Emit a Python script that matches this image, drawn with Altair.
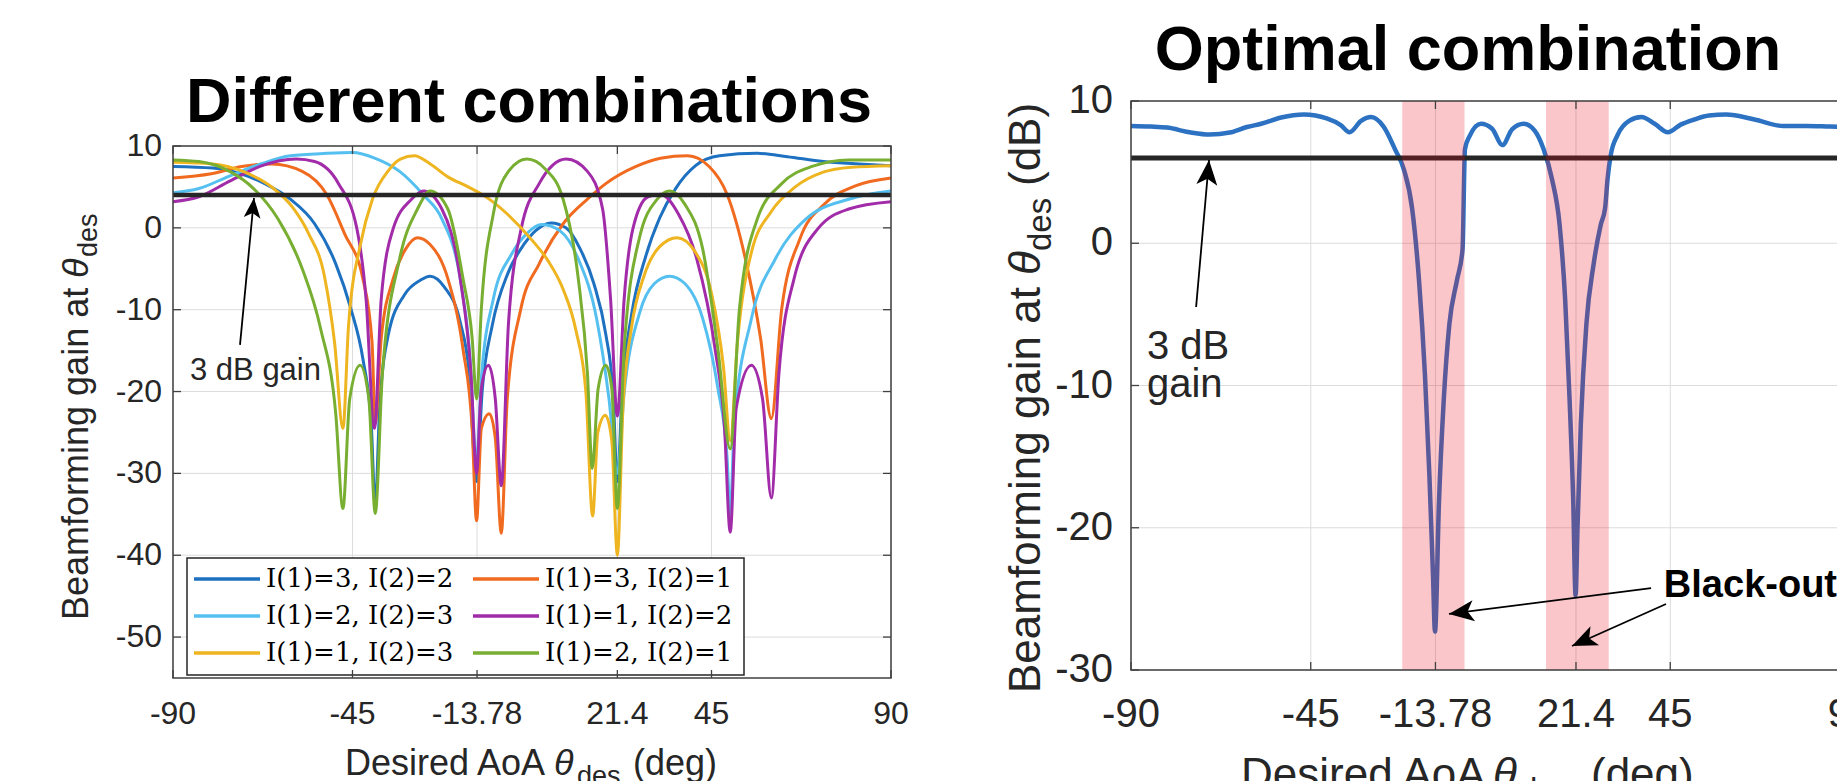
import altair as alt
import pandas as pd

# ---------------- left panel: different combinations ----------------
NAMES = ["I(1)=3, I(2)=2", "I(1)=3, I(2)=1", "I(1)=2, I(2)=3",
         "I(1)=1, I(2)=2", "I(1)=1, I(2)=3", "I(1)=2, I(2)=1"]
COLORS = ["#1D71C0", "#F06A1F", "#55C0F0", "#A12BA8", "#EEB520", "#78AE31"]

X_32 = [-90, -80, -73, -67, -60.6, -54.5, -49.2, -45.4, -42.4, -40.3, -39.3, -38.2, -36, -32, -28,
        -25.6, -22, -18, -15.8, -13.9, -12.5, -10, -6, -2, 1, 4.8, 8.5, 12, 15.5, 18.5, 20.3, 21.4,
        22.6, 25, 28.5, 32, 36, 41, 47, 56.5, 64, 73, 82, 90]
Y_32 = [7.5, 7.3, 6.6, 5.4, 3.5, 0.5, -4.4, -9.9, -16, -24, -34, -22, -13, -8.2, -6.4,
        -5.9, -7.2, -11.5, -17.5, -31, -20, -12, -5.5, -2, -0.3, 0.6, 0, -2.5, -6.8, -13, -20, -31,
        -20, -10.5, -3.5, 1.2, 4.8, 7.6, 8.8, 9.1, 8.7, 8.1, 7.8, 7.6]

X_31 = [-90, -80.4, -72.8, -65.2, -57.6, -51.5, -47, -42.4, -40.1, -39.3, -37.8, -34.8, -31.7, -28.7,
        -25.6, -21.1, -17.3, -15, -13.9, -12.7, -10.7, -9.2, -7.7, -6.2, -2.8, 1.8, 7.8, 13.9, 18.5,
        26.1, 32.2, 39, 44.4, 48.9, 53.5, 57.3, 60, 62.6, 67.2, 73.3, 80.9, 90]
Y_31 = [6.1, 6.6, 7.5, 7.8, 6.9, 4.1, -0.7, -6.2, -14, -23.9, -13.5, -6.2, -2.6, -1.2,
        -2, -6.2, -14.8, -24.5, -35.8, -24.5, -22.7, -25.7, -37.3, -20.9, -9.9, -4.4, 0.5, 3.5, 5.4,
        7.5, 8.5, 8.8, 7.5, 4.1, -3.8, -13.5, -23.3, -9.9, -1.3, 2.9, 5.1, 6.1]

X_23 = [-90, -83.5, -76, -68, -60.6, -51.5, -45, -39.3, -33.2, -27.2, -22.6, -18, -15.7, -13.9,
        -12.7, -9.7, -5.1, -1.3, 2.5, 7.1, 11.6, 16.2, 19.3, 21.4, 23.1, 26.9, 30.7, 34.5, 38.3,
        42.8, 46.6, 48.9, 49.7, 50.7, 55, 61, 68.7, 79.4, 90]
Y_23 = [4.3, 4.8, 6.3, 7.8, 8.8, 9.1, 9.2, 8.5, 6.9, 4.0, 1.1, -6.2, -14.8, -28.2,
        -18.4, -8.7, -3.2, -0.7, 0.4, -0.4, -3.8, -11.1, -20.9, -30, -20.2, -10.5, -6.8, -5.9, -6.8,
        -11.1, -19.6, -28, -34.9, -24, -11.1, -3.8, 1.1, 3.5, 4.5]

X_12 = [-90, -83.5, -75.8, -68.2, -59.1, -54.5, -48.5, -43.9, -41.6, -39.5, -37.8, -34.8, -30.2,
        -27.2, -22.6, -18, -15.3, -13.9, -12.7, -10.9, -9.2, -7.7, -5.9, -2.7, 1.8, 8.6, 13.9, 17.7,
        19.7, 21.4, 23.1, 25.3, 29.1, 32.2, 36.7, 41.3, 45.9, 48.2, 49.7, 51.2, 55, 57.8, 60, 61.9,
        65.7, 71.7, 79.4, 90]
Y_12 = [3.2, 3.8, 5.7, 7.5, 8.4, 8.1, 5.4, -0.1, -8.7, -24.5, -8.7, -0.1, 3.5,
        4.5, 2.3, -6.2, -17.8, -30, -19.6, -16.8, -20.9, -31.5, -11.7, -0.1, 5.4, 8.4, 6.9, 2.3,
        -8.7, -23, -8.7, -0.1, 3.8, 4.1, 1.7, -3.8, -14.8, -23.9, -37.2, -22, -16.8, -20.9, -33, -17.8,
        -6.2, -0.1, 2.3, 3.2]

X_13 = [-90, -80, -72, -65, -60, -56, -52, -49.5, -47.4, -46, -43, -40, -36, -33, -29.5, -25.5,
        -21, -16, -11, -6, 0, 4, 7.8, 11, 13.5, 15.2, 16.5, 18.4, 20, 21.4, 22.8, 25, 28, 32, 36.4,
        41, 45, 48, 49.7, 51.5, 55, 60, 66, 73, 80, 90]
Y_13 = [8.0, 7.8, 6.8, 4.9, 2.5, -0.7, -6, -14, -24.5, -12, -2, 3.5, 7, 8.4, 8.8, 7.8,
        6.2, 5.0, 3.6, 1.6, -1.5, -4, -7.5, -12.5, -20, -35.2, -25, -22.9, -26, -40, -22, -12, -6, -2.3, -1.2,
        -3, -8, -17, -26, -14, -3, 2, 5, 6.8, 7.4, 7.6]

X_21 = [-90, -83.5, -75.8, -69.8, -63.7, -57.6, -53, -49.2, -47.4, -45.7, -43.1, -40.9, -39.3,
        -37.5, -33.2, -28.7, -25.5, -21.1, -17.3, -15, -13.9, -12.7, -9.7, -5.9, -1.3, 3.3, 7.8, 11.6,
        13.9, 15.1, 16.6, 18.5, 20, 21.4, 23.1, 26.9, 31.4, 34.5, 38.3, 42.8, 46.6, 49.7, 52, 56.5,
        62.6, 70.2, 79.4, 90]
Y_21 = [8.3, 8.1, 6.9, 4.8, 1.1, -5, -12.3, -22.7, -34.3, -20.9, -16.8, -20.9, -34.9,
        -17.8, -3.8, 2.3, 4.5, 2.3, -6.2, -13.5, -20.9, -9.9, 1.7, 6.9, 8.4, 7.2, 3.5, -6.2,
        -17.8, -29.4, -19.6, -16.8, -19.6, -34.3, -14.8, -1.3, 3.5, 4.5, 2.9, -2.6, -14.8, -27, -9.9, 1.1,
        5.4, 7.5, 8.3, 8.3]

# ---------------- right panel: optimal combination ----------------
X_OPT = [-90, -85, -81, -75.3, -70.3, -65.3, -61, -57.4, -52.4, -46.7, -41, -37.5, -35.3, -32.4,
         -29.9, -26.7, -23.9, -21.7, -19.6, -17.9, -16.4, -15.3, -14.4, -13.9, -12.9, -11.7, -10.3,
         -8.4, -7.0, -6.4, -5.3, -2.4, 0.4, 3.0, 5.4, 8.3, 11.1, 13.3, 15.4, 17.3, 18.7, 19.8, 20.7,
         21.3, 21.8, 22.6, 24.0, 25.8, 27.6, 28.7, 29.3, 30.1, 31.8, 34.7, 37.8, 41.1, 44.4, 47.6,
         51, 54.7, 59, 66.1, 73.3, 79, 85, 90]
Y_OPT = [8.24, 8.2, 8.13, 7.8, 7.64, 7.78, 8.17, 8.4, 8.84, 9.05, 8.77, 8.3, 7.8, 8.6,
         8.87, 8.17, 6.6, 5.2, 2.4, -2.6, -9.3, -16.3, -23.3, -27.3, -18.2, -11, -5.7,
         -2.6, -0.45, 6.6, 7.5, 8.4, 8.05, 6.9, 8.0, 8.4, 7.9, 6.6, 4.5, 1.3, -4, -11, -18,
         -24.75, -19.8, -12.8, -5.7, -1.5, 1.3, 2.5, 4.5, 6.2, 7.6, 8.6, 8.87, 8.4, 7.8, 8.34,
         8.7, 8.98, 9.05, 8.7, 8.24, 8.24, 8.2, 8.17]

BAND_START = [-22.1, 13.9]
BAND_END = [-6.5, 29.6]

XTICKS = [-90, -45, -13.78, 21.4, 45, 90]
YTICKS_L = [10, 0, -10, -20, -30, -40, -50]
YTICKS_R = [10, 0, -10, -20, -30]
THRESH_L = [4]
THRESH_R = [6]

TITLE_L = "Different combinations"
TITLE_R = "Optimal combination"
YT_MAIN = "Beamforming gain at "
THETA = "\u03b8"
SUB = "des"
XT_MAIN = "Desired AoA "
XT_UNIT = "(deg)"
YT_UNIT = "(dB)"
ANNOT_L = "3 dB gain"
ANNOT_R = ["3 dB", "gain"]
BLACKOUT = "Black-out"

# annotation anchors (data coordinates)
ARROW_L = (-73.2, -14.3, -69.7, 3.65)
ARROW_R = (-73.7, -4.48, -70.47, 5.85)
ARROW_B1 = (40.2, -24.24, -10.39, -26.06)
ARROW_B2 = (43.94, -25.36, 20.4, -28.31)

# ---------------- geometry / styling ----------------
SANS = "Liberation Sans"
SERIF = "DejaVu Serif"
INK = "#262626"
FRAME = "#404040"
GRID = "#dcdcdc"
HEAD = "M0,0 L0.42,1 L0,0.75 L-0.42,1 Z"

WL, HL = 718, 532          # left plot box
WR, HR = 719, 569          # right plot box
L0X, L0Y = 0, 45           # left box origin inside the shared view
R0X, R0Y = 958, 0          # right box origin inside the shared view
PAD_L, PAD_T = 165, 93     # view origin on the page is (8 + PAD_L, 8 + PAD_T)
VIEW_W = 1829 - PAD_L      # the drawing is cut at the right edge of the window
VIEW_H = L0Y + HL
PAD_B = 773 - PAD_T - VIEW_H

xsL = alt.Scale(domain=[-90, 90], range=[L0X, L0X + WL], nice=False, zero=False)
ysL = alt.Scale(domain=[-55, 10], range=[L0Y + HL, L0Y], nice=False, zero=False)
xsR = alt.Scale(domain=[-90, 90], range=[R0X, R0X + WR], nice=False, zero=False)
ysR = alt.Scale(domain=[-30, 10], range=[R0Y + HR, R0Y], nice=False, zero=False)
cscale = alt.Scale(domain=NAMES, range=COLORS)


def XL(f):
    return alt.X(f, type="quantitative", scale=xsL, axis=None)


def YL(f):
    return alt.Y(f, type="quantitative", scale=ysL, axis=None)


def XR(f):
    return alt.X(f, type="quantitative", scale=xsR, axis=None)


def YR(f):
    return alt.Y(f, type="quantitative", scale=ysR, axis=None)


def one(**kw):
    return pd.DataFrame([kw])


def vtext(txt, x, y, size, **kw):
    return alt.Chart(pd.DataFrame({"t": [txt]})).mark_text(
        font=SANS, fontSize=size, baseline="alphabetic", **kw
    ).encode(x=alt.value(x), y=alt.value(y), text="t:N")


def dtext(txt, x, y, X, Y, size, **kw):
    return alt.Chart(pd.DataFrame({"t": [txt], "deg": [x], "gain": [y]})).mark_text(
        font=SANS, fontSize=size, baseline="alphabetic", align="left", **kw
    ).encode(x=X("deg"), y=Y("gain"), text="t:N")


def arrow(spec, ang, hsize, X, Y):
    x0, y0, x1, y1 = spec
    shaft = alt.Chart(pd.DataFrame({"deg": [x0, x1], "gain": [y0, y1]})).mark_line(
        color="black", strokeWidth=1.8).encode(x=X("deg"), y=Y("gain"))
    head = alt.Chart(pd.DataFrame({"deg": [x1], "gain": [y1]})).mark_point(
        shape=HEAD, filled=True, size=hsize, angle=ang, color="black", opacity=1,
        strokeWidth=0).encode(x=X("deg"), y=Y("gain"))
    return [shaft, head]


def grid(X, Y, x0, y0, W, H, xt, yt):
    dx = pd.DataFrame({"deg": xt})
    dy = pd.DataFrame({"gain": yt})
    m = dict(color=GRID, strokeWidth=1)
    return [
        alt.Chart(dx).mark_rule(**m).encode(x=X("deg"), y=alt.value(y0), y2=alt.value(y0 + H)),
        alt.Chart(dy).mark_rule(**m).encode(y=Y("gain"), x=alt.value(x0), x2=alt.value(x0 + W)),
    ]


def box(X, Y, x0, y0, W, H, xt, yt, fs, xpad, ypad):
    dx = pd.DataFrame({"deg": xt, "lab": [f"{v:g}" for v in xt]})
    dy = pd.DataFrame({"gain": yt, "lab": [f"{v:g}" for v in yt]})
    m = dict(color=FRAME, strokeWidth=1.3)
    t = dict(font=SANS, fontSize=fs, color=INK)
    return [
        alt.Chart(dx).mark_rule(**m).encode(x=X("deg"), y=alt.value(y0 + H), y2=alt.value(y0 + H - 8)),
        alt.Chart(dx).mark_rule(**m).encode(x=X("deg"), y=alt.value(y0), y2=alt.value(y0 + 8)),
        alt.Chart(dy).mark_rule(**m).encode(y=Y("gain"), x=alt.value(x0), x2=alt.value(x0 + 8)),
        alt.Chart(dy).mark_rule(**m).encode(y=Y("gain"), x=alt.value(x0 + W), x2=alt.value(x0 + W - 8)),
        alt.Chart(one(a=0)).mark_rect(fill="transparent", stroke=FRAME, strokeWidth=1.5).encode(
            x=alt.value(x0), x2=alt.value(x0 + W), y=alt.value(y0), y2=alt.value(y0 + H)),
        alt.Chart(dx).mark_text(align="center", baseline="top", **t).encode(
            x=X("deg"), y=alt.value(y0 + H + xpad), text="lab:N"),
        alt.Chart(dy).mark_text(align="right", baseline="middle", **t).encode(
            y=Y("gain"), x=alt.value(x0 - ypad), text="lab:N"),
    ]


# ---------------- left panel ----------------
series = [(NAMES[0], X_32, Y_32), (NAMES[1], X_31, Y_31), (NAMES[2], X_23, Y_23),
          (NAMES[3], X_12, Y_12), (NAMES[4], X_13, Y_13), (NAMES[5], X_21, Y_21)]
rows = []
for name, xs, ys in series:
    for a, b in zip(xs, ys):
        rows.append({"name": name, "deg": a, "gain": b})
df_left = pd.DataFrame(rows)

layers = []
layers += grid(XL, YL, L0X, L0Y, WL, HL, XTICKS, YTICKS_L)
for name in NAMES:
    layers.append(
        alt.Chart(df_left).transform_filter(alt.datum.name == name).mark_line(
            strokeWidth=3, interpolate="monotone").encode(
            x=XL("deg"), y=YL("gain"), color=alt.Color("name:N", scale=cscale, legend=None)))

layers.append(alt.Chart(pd.DataFrame({"gain": THRESH_L})).mark_rule(
    color=INK, strokeWidth=4.5).encode(y=YL("gain"), x=alt.value(L0X), x2=alt.value(L0X + WL)))
layers += arrow(ARROW_L, 5.4, 1600, XL, YL)
layers.append(dtext(ANNOT_L, -85.74, -18.59, XL, YL, 31, color=INK))


# manual legend, placed in plot coordinates of the left box
def lx(px):
    return px / (WL / 180.0) - 90


def ly(py):
    return 10 - py / (HL / 65.0)


leg_rows = []
for i, name in enumerate(NAMES):
    col, row = i % 2, i // 2
    x1 = 21 if col == 0 else 300
    yy = 433 + 37 * row
    leg_rows.append({"name": name, "x1": lx(x1), "x2": lx(x1 + 66), "tx": lx(x1 + 72), "y": ly(yy)})
df_leg = pd.DataFrame(leg_rows)

layers.append(alt.Chart(one(x1=lx(14), x2=lx(571), y1=ly(412), y2=ly(529))).mark_rect(
    fill="white", stroke=INK, strokeWidth=1.5).encode(
    x=XL("x1"), x2=alt.X2("x2"), y=YL("y1"), y2=alt.Y2("y2")))
layers.append(alt.Chart(df_leg).mark_rule(strokeWidth=3.5).encode(
    x=XL("x1"), x2=alt.X2("x2"), y=YL("y"), color=alt.Color("name:N", scale=cscale, legend=None)))
layers.append(alt.Chart(df_leg).mark_text(
    align="left", baseline="middle", font=SERIF, fontSize=26, color="black").encode(
    x=XL("tx"), y=YL("y"), text="name:N"))

layers += box(XL, YL, L0X, L0Y, WL, HL, XTICKS, YTICKS_L, 32, 21, 11)

layers.append(vtext(TITLE_L, L0X + 356, L0Y - 24, 63, fontWeight="bold", align="center", color="black"))
layers.append(vtext(YT_MAIN, L0X - 85, L0Y + 474, 36, angle=270, align="left", color=INK))
layers.append(vtext(THETA, L0X - 85, L0Y + 132, 36, angle=270, align="left", fontStyle="italic", color=INK))
layers.append(vtext(SUB, L0X - 76, L0Y + 111, 27, angle=270, align="left", color=INK))
layers.append(vtext(XT_MAIN, L0X + 172, L0Y + 629, 36, align="left", color=INK))
layers.append(vtext(THETA, L0X + 381, L0Y + 629, 36, align="left", fontStyle="italic", color=INK))
layers.append(vtext(SUB, L0X + 404, L0Y + 639, 27, align="left", color=INK))
layers.append(vtext(XT_UNIT, L0X + 460, L0Y + 629, 36, align="left", color=INK))

# ---------------- right panel ----------------
df_opt = pd.DataFrame({"deg": X_OPT, "gain": Y_OPT})
df_band = pd.DataFrame({"start": BAND_START, "end": BAND_END})

layers += grid(XR, YR, R0X, R0Y, WR, HR, XTICKS, YTICKS_R)
layers += [
    alt.Chart(df_opt).mark_line(color="#2C71C2", strokeWidth=4.5, interpolate="monotone").encode(
        x=XR("deg"), y=YR("gain")),
    alt.Chart(pd.DataFrame({"gain": THRESH_R})).mark_rule(color=INK, strokeWidth=5).encode(
        y=YR("gain"), x=alt.value(R0X), x2=alt.value(R0X + WR)),
    alt.Chart(df_band).mark_rect(color="#EE1122", opacity=0.24).encode(
        x=XR("start"), x2=alt.X2("end"), y=alt.value(R0Y), y2=alt.value(R0Y + HR)),
]
layers += arrow(ARROW_R, 5.05, 2500, XR, YR)
layers += arrow(ARROW_B1, 262.7, 2500, XR, YR)
layers += arrow(ARROW_B2, 245.9, 2500, XR, YR)
layers.append(dtext(ANNOT_R[0], -86.0, -8.14, XR, YR, 40, color=INK))
layers.append(dtext(ANNOT_R[1], -86.0, -10.81, XR, YR, 40, color=INK))
layers.append(dtext(BLACKOUT, 43.4, -24.9, XR, YR, 38, fontWeight="bold", color="black"))
layers += box(XR, YR, R0X, R0Y, WR, HR, XTICKS, YTICKS_R, 40, 25, 18)
layers.append(vtext(TITLE_R, R0X + 337, R0Y - 31, 63, fontWeight="bold", align="center", color="black"))
layers.append(vtext(YT_MAIN, R0X - 91, R0Y + 592, 44, angle=270, align="left", color=INK))
layers.append(vtext(THETA, R0X - 91, R0Y + 174, 44, angle=270, align="left", fontStyle="italic", color=INK))
layers.append(vtext(SUB, R0X - 80, R0Y + 150, 33, angle=270, align="left", color=INK))
layers.append(vtext(YT_UNIT, R0X - 91, R0Y + 85, 44, angle=270, align="left", color=INK))
layers.append(vtext(XT_MAIN, R0X + 110, R0Y + 688, 44, align="left", color=INK))
layers.append(vtext(THETA, R0X + 362, R0Y + 688, 44, align="left", fontStyle="italic", color=INK))
layers.append(vtext(SUB, R0X + 388, R0Y + 700, 33, align="left", color=INK))
layers.append(vtext(XT_UNIT, R0X + 460, R0Y + 688, 44, align="left", color=INK))

chart = alt.layer(*layers).resolve_scale(x="independent", y="independent").properties(
    width=VIEW_W, height=VIEW_H, background="white",
    autosize=alt.AutoSizeParams(type="none"),
    padding={"left": PAD_L, "top": PAD_T, "right": 0, "bottom": PAD_B},
).configure_view(strokeOpacity=0)

chart.save("out.html", embed_options={"renderer": "svg", "actions": False})
